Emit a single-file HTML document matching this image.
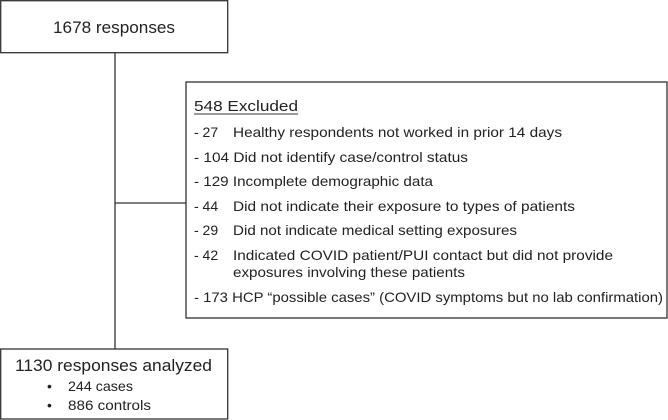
<!DOCTYPE html>
<html><head><meta charset="utf-8"><style>
html,body{margin:0;padding:0;background:#fff}
svg{display:block}
text{font-family:"Liberation Sans",sans-serif;fill:#222}
</style></head><body>
<svg width="668" height="420" viewBox="0 0 668 420" xmlns="http://www.w3.org/2000/svg">
<g fill="none" stroke="#333" stroke-width="1.3">
<rect x="0.7" y="0.7" width="227" height="52"/>
<rect x="186" y="82" width="481" height="236"/>
<rect x="0.7" y="349" width="227" height="70"/>
<line x1="115" y1="53" x2="115" y2="349"/>
<line x1="115" y1="203" x2="186" y2="203"/>
</g>
<text x="53" y="33" font-size="17" textLength="122" lengthAdjust="spacingAndGlyphs">1678 responses</text>
<text x="194" y="111" font-size="15" textLength="104" lengthAdjust="spacingAndGlyphs">548 Excluded</text>
<line x1="194" y1="114" x2="298" y2="114" stroke="#333" stroke-width="1"/>
<g font-size="14">
<text x="194" y="137">- 27</text><text x="233" y="137" textLength="329" lengthAdjust="spacingAndGlyphs">Healthy respondents not worked in prior 14 days</text>
<text x="194" y="162" textLength="274" lengthAdjust="spacingAndGlyphs">- 104 Did not identify case/control status</text>
<text x="194" y="186" textLength="239" lengthAdjust="spacingAndGlyphs">- 129 Incomplete demographic data</text>
<text x="194" y="211">- 44</text><text x="233" y="211" textLength="342" lengthAdjust="spacingAndGlyphs">Did not indicate their exposure to types of patients</text>
<text x="194" y="235">- 29</text><text x="233" y="235" textLength="284" lengthAdjust="spacingAndGlyphs">Did not indicate medical setting exposures</text>
<text x="194" y="260">- 42</text><text x="233" y="260" textLength="380" lengthAdjust="spacingAndGlyphs">Indicated COVID patient/PUI contact but did not provide</text>
<text x="233" y="277" textLength="232" lengthAdjust="spacingAndGlyphs">exposures involving these patients</text>
<text x="194" y="302" textLength="469" lengthAdjust="spacingAndGlyphs">- 173 HCP “possible cases” (COVID symptoms but no lab confirmation)</text>
</g>
<text x="15" y="371" font-size="17" textLength="197" lengthAdjust="spacingAndGlyphs">1130 responses analyzed</text>
<g font-size="14">
<text x="47" y="391">•</text><text x="68" y="391" textLength="65" lengthAdjust="spacingAndGlyphs">244 cases</text>
<text x="47" y="410">•</text><text x="68" y="410" textLength="83" lengthAdjust="spacingAndGlyphs">886 controls</text>
</g>
</svg>
</body></html>
